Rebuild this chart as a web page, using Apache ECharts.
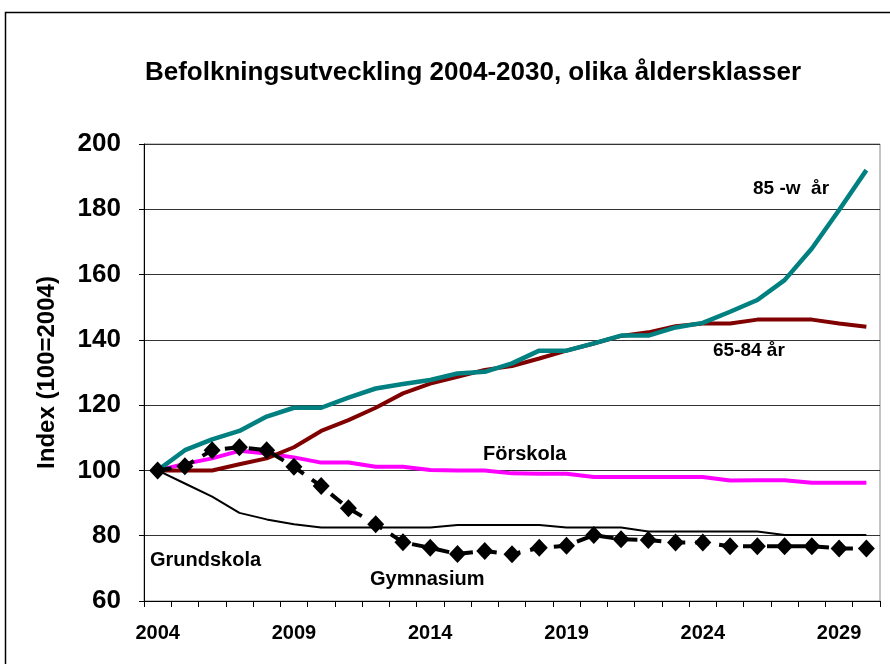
<!DOCTYPE html>
<html>
<head>
<meta charset="utf-8">
<script src="https://cdn.jsdelivr.net/npm/echarts@6/dist/echarts.min.js"></script>
<style>
  html, body { margin: 0; padding: 0; background: #fff; }
  #main { width: 890px; height: 664px; }
</style>
</head>
<body>
<div id="main"></div>
<script>
// år 2004-2030
var years = [];
for (var y = 2004; y <= 2030; y++) years.push(String(y));

// indexserier (100 = 2004)
var grundskola = [100, 96, 92, 87, 85, 83.5, 82.5, 82.5, 82.5, 82.5, 82.5, 83.3, 83.3, 83.3, 83.3, 82.5, 82.5, 82.5, 81.3, 81.3, 81.3, 81.3, 81.3, 80.2, 80.2, 80.2, 80.2];
var forskola = [100, 102, 103.7, 106, 105.2, 104, 102.4, 102.4, 101.1, 101.1, 100.1, 100, 100, 99.1, 99, 99, 98, 98, 98, 98, 98, 96.9, 97, 97, 96.2, 96.2, 96.2];
var ald6584 = [100, 100, 100, 101.9, 103.7, 107.1, 112.1, 115.4, 119.2, 123.6, 126.6, 128.7, 130.8, 132, 134.3, 136.7, 138.9, 141.2, 142.3, 144.2, 145, 145, 146.2, 146.2, 146.2, 145, 144];
var ald85 = [100, 106.2, 109.5, 112.1, 116.5, 119.2, 119.2, 122.3, 125.1, 126.5, 127.7, 129.7, 130.2, 132.8, 136.7, 136.7, 138.9, 141.3, 141.3, 143.8, 145.2, 148.6, 152.2, 158.3, 168, 179.8, 192];
var gymnasium = [100, 101.3, 106.2, 107.1, 106.2, 101.1, 95.2, 88.4, 83.5, 78, 76.3, 74.4, 75.3, 74.3, 76.3, 76.9, 80.2, 78.9, 78.7, 77.9, 77.9, 76.8, 76.8, 76.8, 76.8, 76.1, 76.1];

var fontFam = 'Arial, "Liberation Sans", sans-serif';

var myChart = echarts.init(document.getElementById('main'));
var option = {
    backgroundColor: '#fff',
    animation: false,
    title: {
        text: 'Befolkningsutveckling 2004-2030, olika åldersklasser',
        left: 468,
        top: 55,
        textAlign: 'center',
        textStyle: { fontFamily: fontFam, fontSize: 26, fontWeight: 'bold', color: '#000' }
    },
    grid: {
        left: 144, right: 10, top: 144, bottom: 63,
        show: true, borderColor: '#888', borderWidth: 1, backgroundColor: 'transparent'
    },
    xAxis: {
        type: 'category',
        data: years,
        boundaryGap: true,
        axisLine: { lineStyle: { color: '#000', width: 1 } },
        axisTick: { show: true, interval: 0, length: 6, lineStyle: { color: '#000' } },
        axisLabel: {
            interval: 4, margin: 22, color: '#000',
            fontFamily: fontFam, fontSize: 20, fontWeight: 'bold'
        },
        splitLine: { show: false }
    },
    yAxis: {
        type: 'value',
        min: 60, max: 200, interval: 20,
        name: 'Index (100=2004)',
        nameLocation: 'middle',
        nameGap: 85,
        nameTextStyle: { fontFamily: fontFam, fontSize: 24, fontWeight: 'bold', color: '#000' },
        axisLine: { show: true, lineStyle: { color: '#000', width: 1 } },
        axisTick: { show: true, length: 5, lineStyle: { color: '#000' } },
        axisLabel: { margin: 23, color: '#000', fontFamily: fontFam, fontSize: 26, fontWeight: 'bold' },
        splitLine: { show: true, lineStyle: { color: '#333', width: 1 } }
    },
    series: [
        {
            name: 'Grundskola', type: 'line', data: grundskola,
            symbol: 'none', lineStyle: { color: '#000', width: 2 }
        },
        {
            name: 'Förskola', type: 'line', data: forskola,
            symbol: 'none', lineStyle: { color: '#ff00ff', width: 4 }
        },
        {
            name: '65-84 år', type: 'line', data: ald6584,
            symbol: 'none', lineStyle: { color: '#800000', width: 4 }
        },
        {
            name: '85 -w år', type: 'line', data: ald85,
            symbol: 'none', lineStyle: { color: '#008080', width: 4.5 }
        },
        {
            name: 'Gymnasium', type: 'line', data: gymnasium,
            symbol: 'diamond', symbolSize: [17, 18],
            itemStyle: { color: '#000' },
            lineStyle: { color: '#000', width: 4, type: [14, 10] }
        }
    ],
    graphic: [
        {
            type: 'rect', silent: true,
            shape: { x: 5.5, y: 12.5, width: 900, height: 700 },
            style: { fill: 'none', stroke: '#000', lineWidth: 1.5 }
        },
        { type: 'text', left: 753, top: 179, style: { text: '85 -w  år', font: 'bold 19px ' + fontFam, fill: '#000' } },
        { type: 'text', left: 713, top: 341, style: { text: '65-84 år', font: 'bold 19px ' + fontFam, fill: '#000' } },
        { type: 'text', left: 483, top: 444, style: { text: 'Förskola', font: 'bold 20px ' + fontFam, fill: '#000' } },
        { type: 'text', left: 150, top: 550, style: { text: 'Grundskola', font: 'bold 20px ' + fontFam, fill: '#000' } },
        { type: 'text', left: 370, top: 569, style: { text: 'Gymnasium', font: 'bold 20px ' + fontFam, fill: '#000' } }
    ]
};
myChart.setOption(option);
</script>
</body>
</html>
